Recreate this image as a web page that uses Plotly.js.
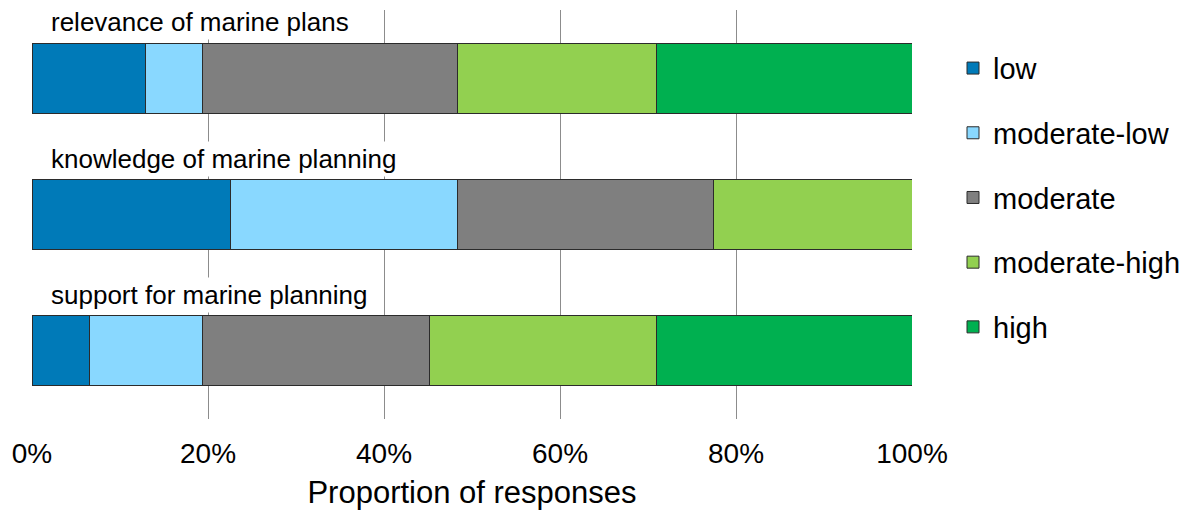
<!DOCTYPE html>
<html>
<head>
<meta charset="utf-8">
<script src="https://cdn.plot.ly/plotly-3.0.1.min.js"></script>
<style>html,body{margin:0;padding:0;background:#fff;}#chart{width:1200px;height:510px;}</style>
</head>
<body>
<div id="chart"></div>
<script>
const categories = ["relevance of marine plans", "knowledge of marine planning", "support for marine planning"];
const seriesNames = ["low", "moderate-low", "moderate", "moderate-high", "high"];
const low = [12.9, 22.6, 6.5];
const moderateLow = [6.5, 25.8, 12.9];
const moderate = [29.0, 29.0, 25.8];
const moderateHigh = [22.6, 22.6, 25.8];
const high = [29.0, 0, 29.0];
const tickValues = [0, 20, 40, 60, 80, 100];
const tickLabels = ["0%", "20%", "40%", "60%", "80%", "100%"];
const colors = ["#007AB8", "#89D8FF", "#7F7F7F", "#92D050", "#00B050"];

const seriesValues = [low, moderateLow, moderate, moderateHigh, high];
const FONT = "Liberation Sans, Arial, sans-serif";

const traces = seriesValues.map((vals, i) => ({
  type: "bar",
  orientation: "h",
  name: seriesNames[i],
  legendgroup: "g" + i,
  y: categories,
  x: vals,
  marker: { color: colors[i], line: { color: "#2b2b2b", width: 1 } },
  hoverinfo: "name+x"
}));

const annotations = categories.map(c => ({
  xref: "x", yref: "y",
  x: 1.8, y: c,
  xanchor: "left", yanchor: "middle",
  yshift: 56,
  text: c,
  showarrow: false,
  bgcolor: "#ffffff",
  borderpad: 2,
  font: { family: FONT, size: 26, color: "#000" }
}));

const layout = {
  width: 1200, height: 510,
  margin: { l: 32, r: 288, t: 10, b: 91 },
  paper_bgcolor: "#fff", plot_bgcolor: "#fff",
  barmode: "stack",
  bargap: 0.487,
  showlegend: true,
  legend: {
    x: 1.0466, xanchor: "left",
    y: 0.92, yanchor: "top",
    traceorder: "grouped",
    tracegroupgap: 24,
    font: { family: FONT, size: 29, color: "#000" },
    bgcolor: "rgba(0,0,0,0)"
  },
  xaxis: {
    range: [0, 100],
    tickvals: tickValues,
    ticktext: tickLabels,
    showgrid: true,
    gridcolor: "#8c8c8c",
    gridwidth: 1,
    zeroline: false,
    showline: false,
    ticks: "",
    ticklabelstandoff: 15,
    tickfont: { family: FONT, size: 28, color: "#000" },
    title: { text: "Proportion of responses", font: { family: FONT, size: 31, color: "#000" }, standoff: 13 },
    fixedrange: true
  },
  yaxis: {
    autorange: false,
    range: [2.5, -0.5],
    showticklabels: false,
    showgrid: false,
    zeroline: false,
    showline: false,
    ticks: "",
    fixedrange: true
  },
  annotations: annotations
};

Plotly.newPlot("chart", traces, layout, { displayModeBar: false, staticPlot: true });
</script>
</body>
</html>
